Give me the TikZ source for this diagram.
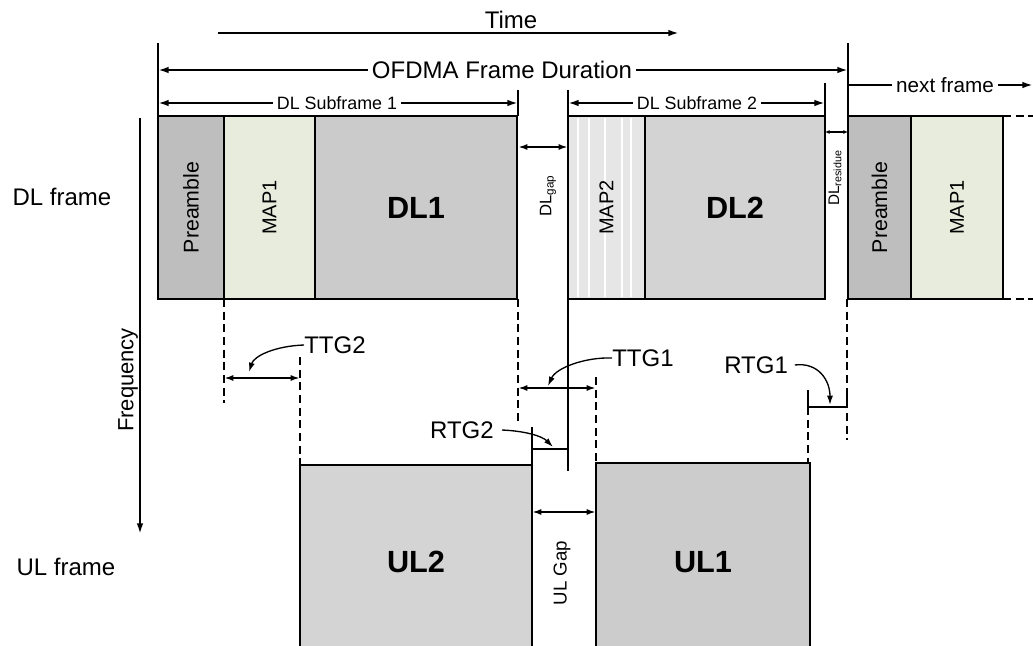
\documentclass[tikz,border=0pt]{standalone}
\usepackage{fontspec}
\setmainfont{Liberation Sans}
\usetikzlibrary{arrows.meta,fit}
\definecolor{preC}{HTML}{BEBEBE}
\definecolor{mapC}{HTML}{E8ECDC}
\definecolor{dlA}{HTML}{CBCBCB}
\definecolor{dlB}{HTML}{D3D3D3}
\definecolor{mapB}{HTML}{E6E6E6}
\definecolor{ulA}{HTML}{D4D4D4}
\definecolor{ulB}{HTML}{CCCCCC}
\begin{document}
\begin{tikzpicture}[x=0.75pt,y=-0.75pt,
  blk/.style={draw=black, line width=2.2pt, inner sep=0pt, outer sep=0pt},
  edgeln/.style={line width=2.2pt},
  dsh/.style={line width=2pt, dash pattern=on 6pt off 3.5pt},
  dim/.style={line width=1.6pt, -{Latex[length=8pt,width=5pt]}},
  dimboth/.style={line width=1.6pt, {Latex[length=7pt,width=4.5pt]}-{Latex[length=7pt,width=4.5pt]}},
  dimsmall/.style={line width=1.3pt, {Latex[length=3.5pt,width=3pt]}-{Latex[length=3.5pt,width=3pt]}},
  curv/.style={line width=1pt, -{Latex[length=7pt,width=4.5pt]}},
  big/.style={font=\fontsize{18}{20}\selectfont, inner sep=2pt},
  mid/.style={font=\fontsize{13.4}{15}\selectfont, inner sep=3pt},
  boxlbl/.style={font=\bfseries\fontsize{23}{25}\selectfont, inner sep=0pt},
  vlbl/.style={rotate=90, inner sep=0pt},
]
\useasboundingbox (0,0) rectangle (1033,646);
\clip (0,0) rectangle (1033,646);

% ---------- top dimension lines ----------
\node[big] (time) at (511,20) {Time};
\coordinate (tA) at (218,33);
\coordinate (tB) at (679,33);
\draw[dim, line width=2pt] (tA) -- (tB);

\coordinate (v0t) at (158,43);
\coordinate (v0b) at (158,116);
\coordinate (v4t) at (848,43);
\coordinate (v4b) at (848,116);
\draw[edgeln] (v0t) -- (v0b);
\draw[edgeln] (v4t) -- (v4b);

\node[big, inner sep=3pt] (ofdma) at (502,70) {OFDMA Frame Duration};
\coordinate (oL) at (158,70);
\coordinate (oR) at (848,70);
\draw[dim] (ofdma.west) -- (oL);
\draw[dim] (ofdma.east) -- (oR);

\coordinate (v1t) at (518,90);
\coordinate (v1b) at (518,116);
\coordinate (v2t) at (568,90);
\coordinate (v2b) at (568,116);
\coordinate (v3t) at (825,83);
\coordinate (v3b) at (825,116);
\draw[edgeln] (v1t) -- (v1b);
\draw[edgeln] (v2t) -- (v2b);
\draw[edgeln] (v3t) -- (v3b);

\node[mid] (sf1) at (337,103) {DL Subframe 1};
\coordinate (s1L) at (158,103);
\coordinate (s1R) at (518,103);
\draw[dim] (sf1.west) -- (s1L);
\draw[dim] (sf1.east) -- (s1R);

\node[mid] (sf2) at (697,103) {DL Subframe 2};
\coordinate (s2L) at (568,103);
\coordinate (s2R) at (825,103);
\draw[dim] (sf2.west) -- (s2L);
\draw[dim] (sf2.east) -- (s2R);

\node[font=\fontsize{15.5}{17}\selectfont, inner sep=3pt] (nf) at (945,85) {next frame};
\coordinate (nL) at (848,85);
\coordinate (nR) at (1033,85);
\draw[line width=1.6pt] (nL) -- (nf.west);
\draw[dim] (nf.east) -- (nR);

% ---------- DL frame boxes ----------
\node[blk, fill=preC, fit={(158,116) (224,299)}] (pre1) {};
\node[blk, fill=mapC, fit={(224,116) (315,299)}] (map1) {};
\node[blk, fill=dlA, fit={(315,116) (517,299)}] (dl1) {};
\node[blk, fill=mapB, fit={(568,116) (645,299)}] (map2) {};
\foreach \sx in {578,589,605,622,631}
  \draw[white, line width=1pt] (\sx,118) -- (\sx,297);
\node[blk, fill=dlB, fit={(645,116) (825,299)}] (dl2) {};
\node[blk, fill=preC, fit={(848,116) (911,299)}] (pre2) {};
\node[blk, fill=mapC, fit={(911,116) (1003,299)}] (map3) {};
\coordinate (c1) at (1003,116);
\coordinate (c2) at (1033,116);
\coordinate (c3) at (1003,299);
\coordinate (c4) at (1033,299);
\draw[dsh] (c1) -- (c2);
\draw[dsh] (c3) -- (c4);

\node[vlbl, font=\fontsize{16}{18}\selectfont] (pre1l) at (pre1.center) {Preamble};
\node[vlbl, font=\fontsize{15}{17}\selectfont] (map1l) at (map1.center) {MAP1};
\node[boxlbl] (dl1l) at (dl1.center) {DL1};
\node[vlbl, font=\fontsize{15}{17}\selectfont] (map2l) at (map2.center) {MAP2};
\node[boxlbl] (dl2l) at (dl2.center) {DL2};
\node[vlbl, font=\fontsize{16}{18}\selectfont] (pre2l) at (pre2.center) {Preamble};
\node[vlbl, font=\fontsize{15}{17}\selectfont] (map3l) at (map3.center) {MAP1};

% DL gap and residue
\coordinate (gL) at (518,147);
\coordinate (gR) at (568,147);
\draw[dimboth] (gL) -- (gR);
\node[vlbl, font=\fontsize{12.5}{14}\selectfont] (dlgap) at (548,196) {DL\textsubscript{gap}};
\coordinate (rL) at (825,132);
\coordinate (rR) at (848,132);
\draw[dimsmall] (rL) -- (rR);
\node[vlbl, font=\fontsize{11.5}{13}\selectfont] (dlres) at (835,178) {DL\textsubscript{residue}};

% side labels
\node[big] (dlf) at (62,197) {DL frame};
\node[big] (ulf) at (66,567) {UL frame};
\coordinate (fT) at (140,118);
\coordinate (fB) at (140,534);
\draw[line width=2pt, -{Latex[length=8pt,width=5pt]}] (fT) -- (fB);
\node[vlbl, font=\fontsize{16.5}{18}\selectfont] (freq) at (128,380) {Frequency};

% ---------- UL boxes ----------
\node[blk, fill=ulA, fit={(300,465) (532,700)}] (ul2) {};
\node[blk, fill=ulB, fit={(596,463) (810,700)}] (ul1) {};
\node[boxlbl] (ul2l) at (416,562) {UL2};
\node[boxlbl] (ul1l) at (703,562) {UL1};
\coordinate (uL) at (532,512);
\coordinate (uR) at (596,512);
\draw[dimboth] (uL) -- (uR);
\node[vlbl, font=\fontsize{14}{16}\selectfont] (ulgap) at (562,573) {UL Gap};

% ---------- guide lines ----------
\coordinate (d1t) at (224,299); \coordinate (d1b) at (224,403);
\coordinate (d2t) at (300,357); \coordinate (d2b) at (300,465);
\coordinate (d3t) at (518,299); \coordinate (d3b) at (518,423);
\coordinate (d4t) at (596,377); \coordinate (d4b) at (596,463);
\coordinate (d5t) at (808,407); \coordinate (d5b) at (808,463);
\coordinate (d6t) at (847,299); \coordinate (d6b) at (847,440);
\draw[dsh] (d1t) -- (d1b);
\draw[dsh] (d2t) -- (d2b);
\draw[dsh] (d3t) -- (d3b);
\draw[dsh] (d4t) -- (d4b);
\draw[dsh] (d5t) -- (d5b);
\draw[dsh] (d6t) -- (d6b);

% MAP2 left edge continued down
\coordinate (m2t) at (568,299);
\coordinate (m2b) at (568,471);
\draw[edgeln] (m2t) -- (m2b);

% TTG2
\coordinate (t2L) at (224,378);
\coordinate (t2R) at (300,378);
\draw[dimboth] (t2L) -- (t2R);
\node[big, anchor=west, inner sep=0pt] (ttg2) at (304,345) {TTG2};
\coordinate (ttg2tip) at (249,372);
\draw[curv] (ttg2.west) .. controls (275,346) and (254,356) .. (ttg2tip);

% TTG1
\coordinate (t1L) at (518,388);
\coordinate (t1R) at (596,388);
\draw[dimboth] (t1L) -- (t1R);
\node[big, anchor=west, inner sep=0pt] (ttg1) at (612,358) {TTG1};
\coordinate (ttg1tip) at (548,386);
\draw[curv] (ttg1.west) .. controls (585,357) and (556,368) .. (ttg1tip);

% RTG2
\coordinate (r2a) at (532,427);
\coordinate (r2d) at (532,465);
\coordinate (r2b) at (532,449);
\coordinate (r2c) at (568,449);
\draw[edgeln] (r2a) -- (r2d);
\draw[edgeln] (r2b) -- (r2c);
\node[big, anchor=east, inner sep=0pt] (rtg2) at (494,430) {RTG2};
\coordinate (rtg2tip) at (553,447);
\draw[curv] ([xshift=6pt]rtg2.east) .. controls (525,431) and (542,436) .. (rtg2tip);

% RTG1
\coordinate (r1a) at (808,390);
\coordinate (r1b) at (808,407);
\coordinate (r1c) at (847,407);
\coordinate (r1d) at (847,392);
\draw[edgeln] (r1a) -- (r1b) -- (r1c) -- (r1d);
\node[big, anchor=west, inner sep=0pt] (rtg1) at (724,365) {RTG1};
\coordinate (rtg1tip) at (830,405);
\draw[curv] ([xshift=5pt]rtg1.east) .. controls (818,362) and (830,380) .. (rtg1tip);
\end{tikzpicture}
\end{document}
